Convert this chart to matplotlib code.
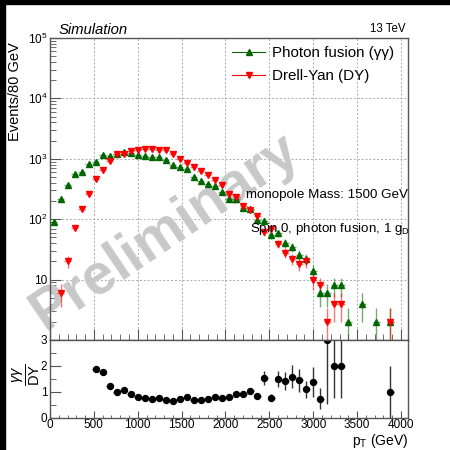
import numpy as np
import matplotlib
matplotlib.use("Agg")
import matplotlib.pyplot as plt
from matplotlib.ticker import FixedLocator, MultipleLocator, LogLocator, FuncFormatter, NullFormatter
from matplotlib.lines import Line2D

plt.rcParams['font.family'] = ['Liberation Sans', 'DejaVu Sans']
plt.rcParams['mathtext.fontset'] = 'custom'
plt.rcParams['mathtext.rm'] = 'Liberation Sans'
plt.rcParams['mathtext.it'] = 'Liberation Sans:italic'
plt.rcParams['mathtext.bf'] = 'Liberation Sans:bold'

# bin centres (GeV), 80 GeV bins
pt_bins = [40, 120, 200, 280, 360, 440, 520, 600, 680, 760, 840, 920, 1000, 1080,
           1160, 1240, 1320, 1400, 1480, 1560, 1640, 1720, 1800, 1880, 1960, 2040,
           2120, 2200, 2280, 2360, 2440, 2520, 2600, 2680, 2760, 2840, 2920, 3000,
           3080, 3160, 3240, 3320, 3400, 3560, 3720, 3880]
bin_half = 40
photon_fusion = [89, 216, 363, 560, 615, 815, 880, 1135, 1130, 1200, 1300, 1240, 1150,
                 1110, 1070, 1065, 950, 800, 718, 690, 495, 425, 385, 360, 282, 214,
                 214, 153, 148, 98, 94, 55, 58, 40, 35, 26, 22, 14, 6, 6, 8, 8, 2, 4, 2, 2]
drell_yan = [0, 6, 20, 71, 149, 265, 468, 645, 911, 1188, 1204, 1348, 1420, 1460, 1470,
             1400, 1397, 1200, 983, 852, 728, 625, 535, 444, 366, 261, 230, 165, 144,
             114, 61, 70, 39, 28, 22, 18, 20, 10, 8, 2, 4, 4, 0, 0, 0, 2]

x_ticks = [0, 500, 1000, 1500, 2000, 2500, 3000, 3500, 4000]
ratio_ticks = [0, 1, 2, 3]

GREEN = '#006600'
RED = '#ff0000'
AXC = '#555555'

x = np.array(pt_bins, dtype=float)
gg = np.array(photon_fusion, dtype=float)
dy = np.array(drell_yan, dtype=float)

fig = plt.figure(figsize=(4.5, 4.5), dpi=100)
W, H = 450.0, 450.0
# black canvas edges
fig.patches.append(plt.Rectangle((0, 0), 5 / W, 1, transform=fig.transFigure,
                                 color='black', zorder=-10))
fig.patches.append(plt.Rectangle((0, 1 - 3.5 / H), 1, 3.5 / H, transform=fig.transFigure,
                                 color='black', zorder=-10))

ax = fig.add_axes([50 / W, 1 - 340 / H, 358 / W, 302 / H])
rax = fig.add_axes([50 / W, 1 - 418 / H, 358 / W, 78 / H])

# ---- main panel
for vals, col, mk in [(gg, GREEN, '^'), (dy, RED, 'v')]:
    m = vals > 0
    ax.errorbar(x[m], vals[m], xerr=bin_half, yerr=np.sqrt(vals[m]), fmt='none',
                ecolor=col, elinewidth=1, alpha=0.55, zorder=3)
    ax.plot(x[m], vals[m], linestyle='none', marker=mk, color=col, ms=4.3, zorder=4)

ax.set_yscale('log')
ax.set_xlim(0, 4080)
ax.set_ylim(1, 1e5)
ax.xaxis.set_major_locator(FixedLocator(x_ticks))
ax.xaxis.set_minor_locator(MultipleLocator(100))
ax.xaxis.set_major_formatter(NullFormatter())
ax.yaxis.set_major_locator(LogLocator(base=10, numticks=10))
ax.yaxis.set_minor_locator(LogLocator(base=10, subs=np.arange(2, 10), numticks=20))
ax.yaxis.set_minor_formatter(NullFormatter())


def log_fmt(v, _):
    e = int(round(np.log10(v)))
    if e == 0:
        return ''
    if e == 1:
        return '10'
    return '$10^{%d}$' % e


ax.yaxis.set_major_formatter(FuncFormatter(log_fmt))
ax.grid(True, which='major', linestyle=(0, (2, 2)), color='#aaaaaa', linewidth=0.7)
ax.set_axisbelow(True)

for a in (ax, rax):
    for s in a.spines.values():
        s.set_color(AXC)
        s.set_linewidth(1)
    a.tick_params(which='both', direction='in', top=False, right=False, color=AXC,
                  labelsize=8.5, pad=2)
    a.tick_params(which='major', length=8)
    a.tick_params(which='minor', length=4)

# watermark
ax.text(165 / W, 1 - 232 / H, 'Preliminary', transform=fig.transFigure, rotation=34,
        fontsize=41, fontweight='bold', color='#c8c8c8', ha='center', va='center',
        zorder=1.5, clip_on=False)

# ---- ratio panel
ok = dy > 0
ratio = np.zeros_like(gg)
ratio[ok] = gg[ok] / dy[ok]
show = ok & (ratio <= 3)
rerr = ratio[show] * np.sqrt(1 / gg[show] + 1 / dy[show])
rax.errorbar(x[show], ratio[show], xerr=bin_half, yerr=rerr, fmt='o', color='black',
             ms=4.3, elinewidth=1, ecolor='#333333', capsize=0)
rax.set_xlim(0, 4080)
rax.set_ylim(0, 3)
rax.xaxis.set_major_locator(FixedLocator(x_ticks))
rax.xaxis.set_minor_locator(MultipleLocator(100))
rax.yaxis.set_major_locator(FixedLocator(ratio_ticks))
rax.yaxis.set_minor_locator(MultipleLocator(0.5))
rax.tick_params(axis='x', which='major', length=5, pad=1)
rax.tick_params(axis='x', which='minor', length=2.5)

# ---- texts
fig.text(59 / W, 1 - 34 / H, 'Simulation', style='italic', fontsize=10.7, va='baseline')
fig.text(405 / W, 1 - 32.5 / H, '13 TeV', fontsize=8.3, ha='right', va='baseline')
fig.text(15 / W, 1 - 42 / H, 'Events/80 GeV', rotation=90, fontsize=10.5,
         ha='center', va='top')
fig.text(408 / W, 1 - 441 / H, r'$\mathrm{p_{T}}$ (GeV)', fontsize=10,
         ha='right', va='center')
fig.text(26 / W, 1 - 375 / H, r'$\frac{\gamma\gamma}{\mathrm{DY}}$', rotation=90,
         fontsize=15, ha='center', va='center')
fig.text(246 / W, 1 - 198 / H, 'monopole Mass: 1500 GeV', fontsize=9.6, va='baseline')
fig.text(250 / W, 1 - 232 / H, r'Spin 0, photon fusion, 1 g$_{\mathrm{D}}$',
         fontsize=9.6, va='baseline')

handles = [Line2D([0], [0], color=GREEN, marker='^', ms=4.3, lw=0.8),
           Line2D([0], [0], color=RED, marker='v', ms=4.3, lw=0.8)]
fig.legend(handles, ['Photon fusion (\u03b3\u03b3)', 'Drell-Yan (DY)'],
           loc='upper left', bbox_to_anchor=(232 / W, 1 - 46 / H), frameon=False,
           fontsize=10.9, handlelength=2.2, handletextpad=0.45, labelspacing=0.6,
           borderpad=0, borderaxespad=0)

fig.savefig('out.png', dpi=100, facecolor='white')
